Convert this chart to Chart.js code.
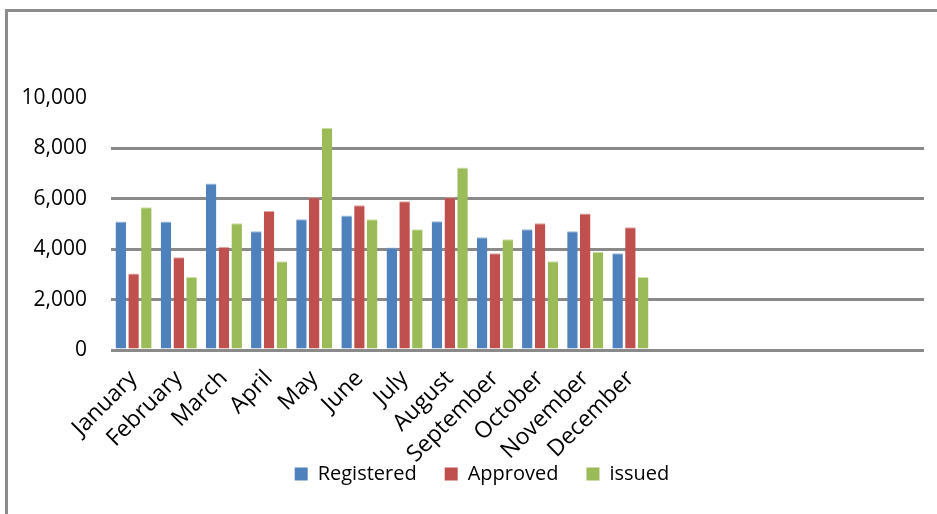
<!DOCTYPE html>
<html>
<head>
<meta charset="utf-8">
<script src="https://cdn.jsdelivr.net/npm/chart.js@4"></script>
<style>
  html, body { margin: 0; padding: 0; background: #ffffff; }
  #wrap { position: relative; width: 937px; height: 514px; overflow: hidden; }
  #frame {
    position: absolute; left: 5px; top: 9px; width: 1000px; height: 600px;
    border-top: 3px solid #8c8c8c; border-left: 3px solid #8c8c8c;
  }
  #chart { position: absolute; left: 0; top: 0; }
</style>
</head>
<body>
<div id="wrap">
  <div id="frame"></div>
  <canvas id="chart" width="937" height="514"></canvas>
</div>
<script>
// Monthly permit counts
const months = ['January', 'February', 'March', 'April', 'May', 'June',
                'July', 'August', 'September', 'October', 'November', 'December'];
const spareSlots = 6; // empty category slots kept after December

const registered = [5100, 5100, 6610, 4710, 5190, 5340, 4070, 5110, 4470, 4790, 4710, 3840];
const approved   = [3040, 3680, 4090, 5520, 6060, 5740, 5900, 6060, 3840, 5030, 5420, 4870];
const issued     = [5660, 2900, 5030, 3520, 8820, 5190, 4790, 7240, 4390, 3520, 3900, 2900];

const yTicks = [0, 2000, 4000, 6000, 8000, 10000];

const labels = months.concat(Array(spareSlots).fill(''));
const FONT = "'Open Sans', 'Liberation Sans', sans-serif";

function bar(label, data, fill, edge) {
  return {
    label, data,
    backgroundColor: fill,
    borderColor: edge,
    borderWidth: { top: 1, left: 0, right: 0, bottom: 0 },
    borderSkipped: 'start',
    categoryPercentage: 0.85,
    barPercentage: 0.82
  };
}

// place the legend row: slightly right of centre, tucked under the month labels
const legendPlace = {
  id: 'legendPlace',
  afterLayout(chart) {
    const lg = chart.legend;
    if (!lg) return;
    lg.left += 20; lg.right += 20;
    lg.top = 436; lg.bottom = chart.height;
    lg.height = lg.bottom - lg.top;
  }
};

new Chart(document.getElementById('chart'), {
  type: 'bar',
  data: {
    labels,
    datasets: [
      bar('Registered', registered, '#4f81bd', '#9dbbe0'),
      bar('Approved', approved, '#c0504d', '#e0a09e'),
      bar('issued', issued, '#9bbb59', '#cfe0a8')
    ]
  },
  plugins: [legendPlace],
  options: {
    responsive: false,
    animation: false,
    layout: { padding: { left: 0, right: 13, top: 98, bottom: 0 } },
    plugins: {
      tooltip: { enabled: false },
      title: { display: false },
      legend: {
        position: 'bottom',
        maxHeight: 30,
        labels: {
          font: { family: FONT, size: 20 },
          color: '#000000',
          boxWidth: 13,
          boxHeight: 13,
          padding: 28,
          generateLabels(chart) {
            return Chart.defaults.plugins.legend.labels.generateLabels(chart).map(it => {
              it.lineWidth = 0;
              it.strokeStyle = it.fillStyle;
              return it;
            });
          }
        }
      }
    },
    scales: {
      x: {
        grid: { display: false, drawTicks: false },
        border: { display: false },
        ticks: {
          autoSkip: false,
          minRotation: 45,
          maxRotation: 45,
          padding: 15,
          color: '#000000',
          font: { family: FONT, size: 23 }
        },
        afterFit(scale) { scale.height = 134; }
      },
      y: {
        min: 0,
        max: 10000,
        afterBuildTicks(scale) { scale.ticks = yTicks.map(v => ({ value: v })); },
        grid: {
          drawTicks: false,
          lineWidth: 3,
          color: ctx => (ctx.tick && ctx.tick.value === 10000) ? 'rgba(0,0,0,0)' : '#8a8a8a'
        },
        border: { display: false },
        ticks: {
          padding: 24,
          color: '#000000',
          font: { family: FONT, size: 21 },
          callback: v => v.toLocaleString('en-US')
        },
        afterFit(scale) { scale.width = 111; }
      }
    }
  }
});
</script>
</body>
</html>
